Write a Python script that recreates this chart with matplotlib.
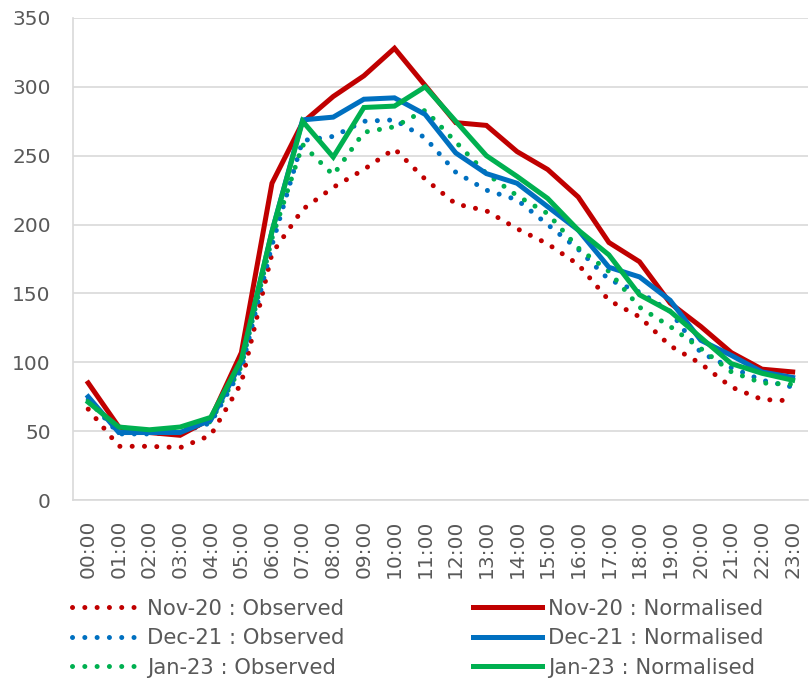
import matplotlib
matplotlib.use("Agg")
import matplotlib.pyplot as plt
import numpy as np

hours = ["%02d:00" % h for h in range(24)]

nov20_obs = [66, 39, 39, 38, 47, 85, 179, 211, 227, 240, 255, 233,
             215, 210, 197, 186, 171, 145, 133, 112, 99, 82, 73, 72]
nov20_norm = [85, 53, 49, 47, 59, 107, 230, 274, 293, 308, 328, 301,
              274, 272, 253, 240, 220, 187, 173, 143, 126, 107, 95, 93]
dec21_obs = [73, 48, 48, 49, 56, 95, 185, 261, 264, 275, 276, 263,
             238, 225, 218, 200, 182, 160, 151, 137, 107, 96, 87, 82]
dec21_norm = [75, 49, 49, 49, 58, 100, 195, 276, 278, 291, 292, 280,
              252, 237, 230, 213, 196, 169, 162, 145, 116, 105, 93, 89]
jan23_obs = [72, 50, 49, 50, 57, 97, 190, 258, 236, 267, 271, 283,
             260, 237, 221, 208, 183, 166, 140, 126, 110, 93, 85, 84]
jan23_norm = [71, 53, 51, 53, 60, 102, 195, 275, 249, 285, 286, 300,
              275, 250, 235, 219, 196, 178, 149, 137, 118, 99, 92, 87]

red = "#C00000"
blue = "#0070C0"
green = "#00B050"
grey_txt = "#595959"
grid_col = "#D9D9D9"

fig = plt.figure(figsize=(8.1, 6.78), dpi=100)
ax = fig.add_axes([0.09, 0.2625, 0.9075, 0.711])

x = np.arange(len(hours))
dot = (0, (0.01, 2.45))

series = [
    (nov20_obs, red, "dot", "Nov-20 : Observed"),
    (dec21_obs, blue, "dot", "Dec-21 : Observed"),
    (jan23_obs, green, "dot", "Jan-23 : Observed"),
    (nov20_norm, red, "solid", "Nov-20 : Normalised"),
    (dec21_norm, blue, "solid", "Dec-21 : Normalised"),
    (jan23_norm, green, "solid", "Jan-23 : Normalised"),
]

handles = []
for vals, col, style, lab in series:
    if style == "dot":
        ln, = ax.plot(x, vals, color=col, lw=3.6, linestyle=dot,
                      dash_capstyle="round", label=lab)
    else:
        ln, = ax.plot(x, vals, color=col, lw=3.6, solid_joinstyle="miter",
                      label=lab)
    handles.append(ln)

ax.set_xlim(-0.5, 23.5)
ax.set_ylim(0, 350)
ax.set_yticks(np.arange(0, 351, 50))
ax.set_xticks(x)
ax.set_xticklabels(hours, rotation=90)
ax.grid(axis="y", color=grid_col, lw=1.2)
ax.set_axisbelow(True)
for s in ["top", "right"]:
    ax.spines[s].set_visible(False)
for s in ["left", "bottom"]:
    ax.spines[s].set_color(grid_col)
    ax.spines[s].set_linewidth(1.2)
ax.tick_params(axis="both", length=0, labelcolor=grey_txt)
ax.tick_params(axis="y", pad=16, labelsize=14.5)
ax.tick_params(axis="x", pad=14, labelsize=14.5)

leg = fig.legend(handles=handles, loc="center", bbox_to_anchor=(0.516, 0.0585),
                 ncol=2, frameon=False, fontsize=15.2, handlelength=3.25,
                 handletextpad=0.3, columnspacing=6.1, labelspacing=0.45,
                 borderpad=0.2)
for t in leg.get_texts():
    t.set_color(grey_txt)

plt.savefig("out.png", dpi=100)
